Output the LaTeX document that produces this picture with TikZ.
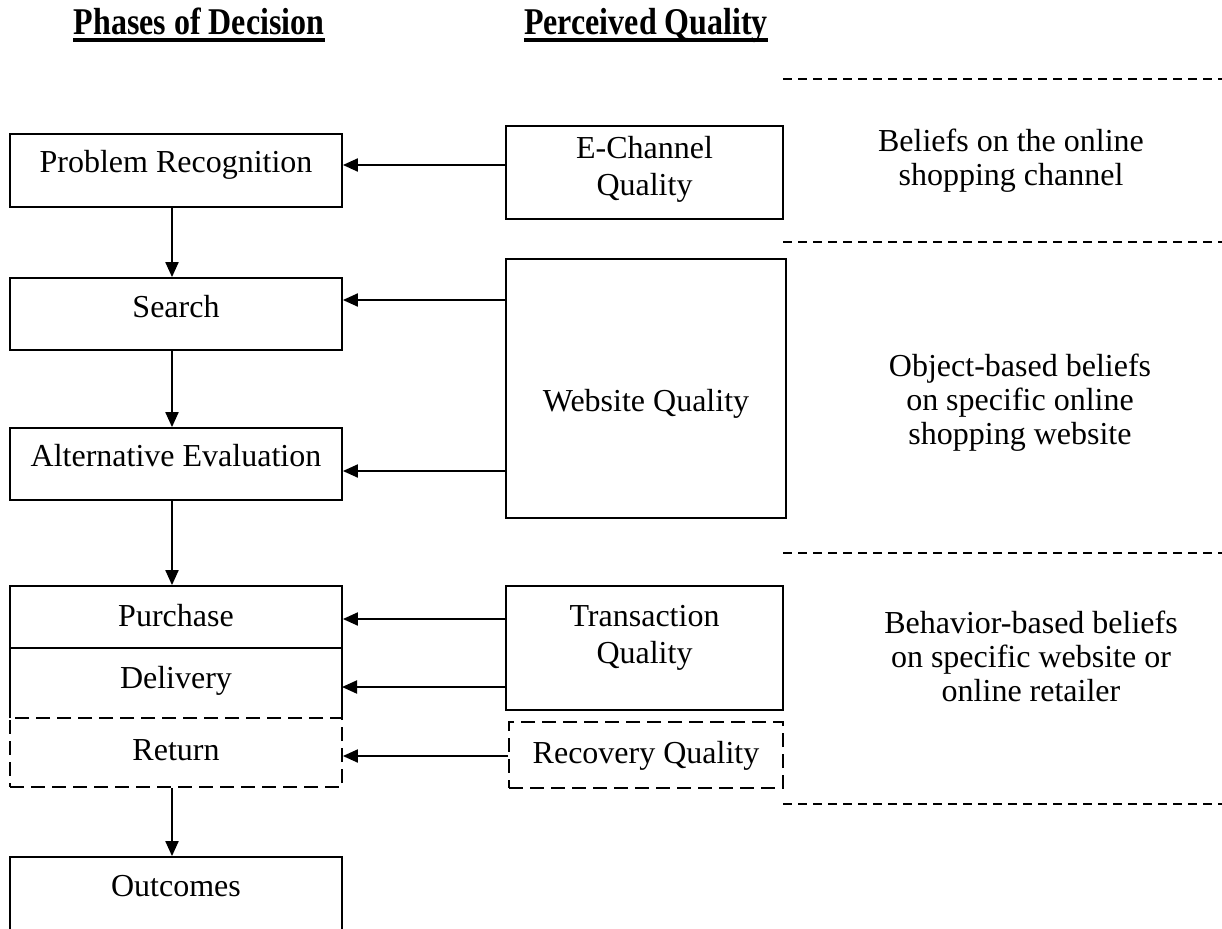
\documentclass[tikz,border=0pt]{standalone}
\usepackage{fontspec}
\setmainfont{Liberation Serif}
\usetikzlibrary{arrows.meta}
% strut that deepens the last line of a multi-line node
\newcommand\padbelow[1]{\rule[-#1]{0pt}{#1}}
% tall bold heading text
\newcommand\headtext[1]{\scalebox{1}[1.18]{#1}}

\begin{document}
\begin{tikzpicture}[x=1pt,y=-1pt,
  every node/.style={font=\fontsize{32}{37}\selectfont, inner sep=0pt},
  box/.style={draw, line width=1.8pt, align=center},
  lbox/.style={box, minimum width=332pt},
  rbox/.style={box, minimum width=277pt},
  dbox/.style={dash pattern=on 14pt off 7pt},
  arr/.style={line width=2pt, -{Triangle[length=15pt,width=13pt]}},
  sep/.style={line width=1.3pt, dash pattern=on 9pt off 6pt},
  hdr/.style={font=\bfseries\fontsize{32}{37}\selectfont, anchor=base},
  note/.style={align=center, font=\fontsize{32}{34}\selectfont}
]
\useasboundingbox (0,0) rectangle (1222,928);
\clip (0,0) rectangle (1222,928);

% column headings
\node[hdr] (hdA) at (199,35) {\headtext{Phases of Decision}};
\node[hdr] (hdB) at (646,35) {\headtext{Perceived Quality}};
\draw[line width=3.5pt] ([yshift=-5pt]hdA.base west) -- ([yshift=-5pt]hdA.base east);
\draw[line width=3.5pt] ([yshift=-5pt]hdB.base west) -- ([yshift=-5pt]hdB.base east);

% decision phases
\node[lbox, minimum height=73pt, text height=22pt, text depth=17pt] (pr) at (176,170.5) {Problem Recognition};
\node[lbox, minimum height=72pt, text height=22pt, text depth=16pt] (srch) at (176,314) {Search};
\node[lbox, minimum height=72pt, text height=22pt, text depth=18pt] (alt) at (176,464) {Alternative Evaluation};
\node[lbox, minimum height=62pt, text height=22pt, text depth=4pt] (pur) at (176,617) {Purchase};
\node[lbox, draw=none, outer sep=0pt, minimum height=70pt, text height=22pt, text depth=12pt] (del) at (176,683) {Delivery};
\draw[line width=1.8pt] (del.south west) -- (del.north west) -- (del.north east) -- (del.south east);
\node[lbox, dbox, minimum height=69pt, text height=22pt, text depth=7pt] (ret) at (176,752.5) {Return};
\node[lbox, minimum height=100pt, text height=22pt, text depth=44pt] (out) at (176,907) {Outcomes};

% quality dimensions
\node[rbox, minimum height=93pt] (ech) at (644.5,172.5) {E-Channel\\Quality\padbelow{14pt}};
\node[rbox, minimum width=280pt, minimum height=259pt, text height=52pt, text depth=7pt] (web) at (646,388.5) {Website Quality};
\node[rbox, minimum height=124pt] (tq) at (644.5,648) {Transaction\\Quality\padbelow{27pt}};
\node[rbox, dbox, minimum width=274pt, minimum height=66pt, text height=22pt, text depth=6pt] (rq) at (646,755) {Recovery Quality};

% belief bands
\draw[sep] (783,79) -- (1222,79);
\draw[sep] (783,242) -- (1222,242);
\draw[sep] (783,553) -- (1222,553);
\draw[sep] (783,804) -- (1222,804);
\node[note] (n1) at (1011,160.5) {Beliefs on the online\\shopping channel};
\node[note] (n2) at (1020,402.5) {Object-based beliefs\\on specific online\\shopping website};
\node[note] (n3) at (1031,656.5) {Behavior-based beliefs\\on specific website or\\online retailer};

% flow between phases
\coordinate (vx) at (172,0);
\draw[arr] (pr.south -| vx) -- (srch.north -| vx);
\draw[arr] (srch.south -| vx) -- (alt.north -| vx);
\draw[arr] (alt.south -| vx) -- (pur.north -| vx);
\draw[arr] (ret.south -| vx) -- (out.north -| vx);

% quality influences
\coordinate (h1) at (0,165);
\coordinate (h2) at (0,300);
\coordinate (h3) at (0,471);
\coordinate (h4) at (0,619);
\coordinate (h5) at (0,687);
\coordinate (h6) at (0,756);
\draw[arr] (ech.west |- h1) -- (pr.east |- h1);
\draw[arr] (web.west |- h2) -- (srch.east |- h2);
\draw[arr] (web.west |- h3) -- (alt.east |- h3);
\draw[arr] (tq.west |- h4) -- (pur.east |- h4);
\draw[arr] (tq.west |- h5) -- (del.east |- h5);
\draw[arr] (rq.west |- h6) -- (ret.east |- h6);
\end{tikzpicture}
\end{document}
